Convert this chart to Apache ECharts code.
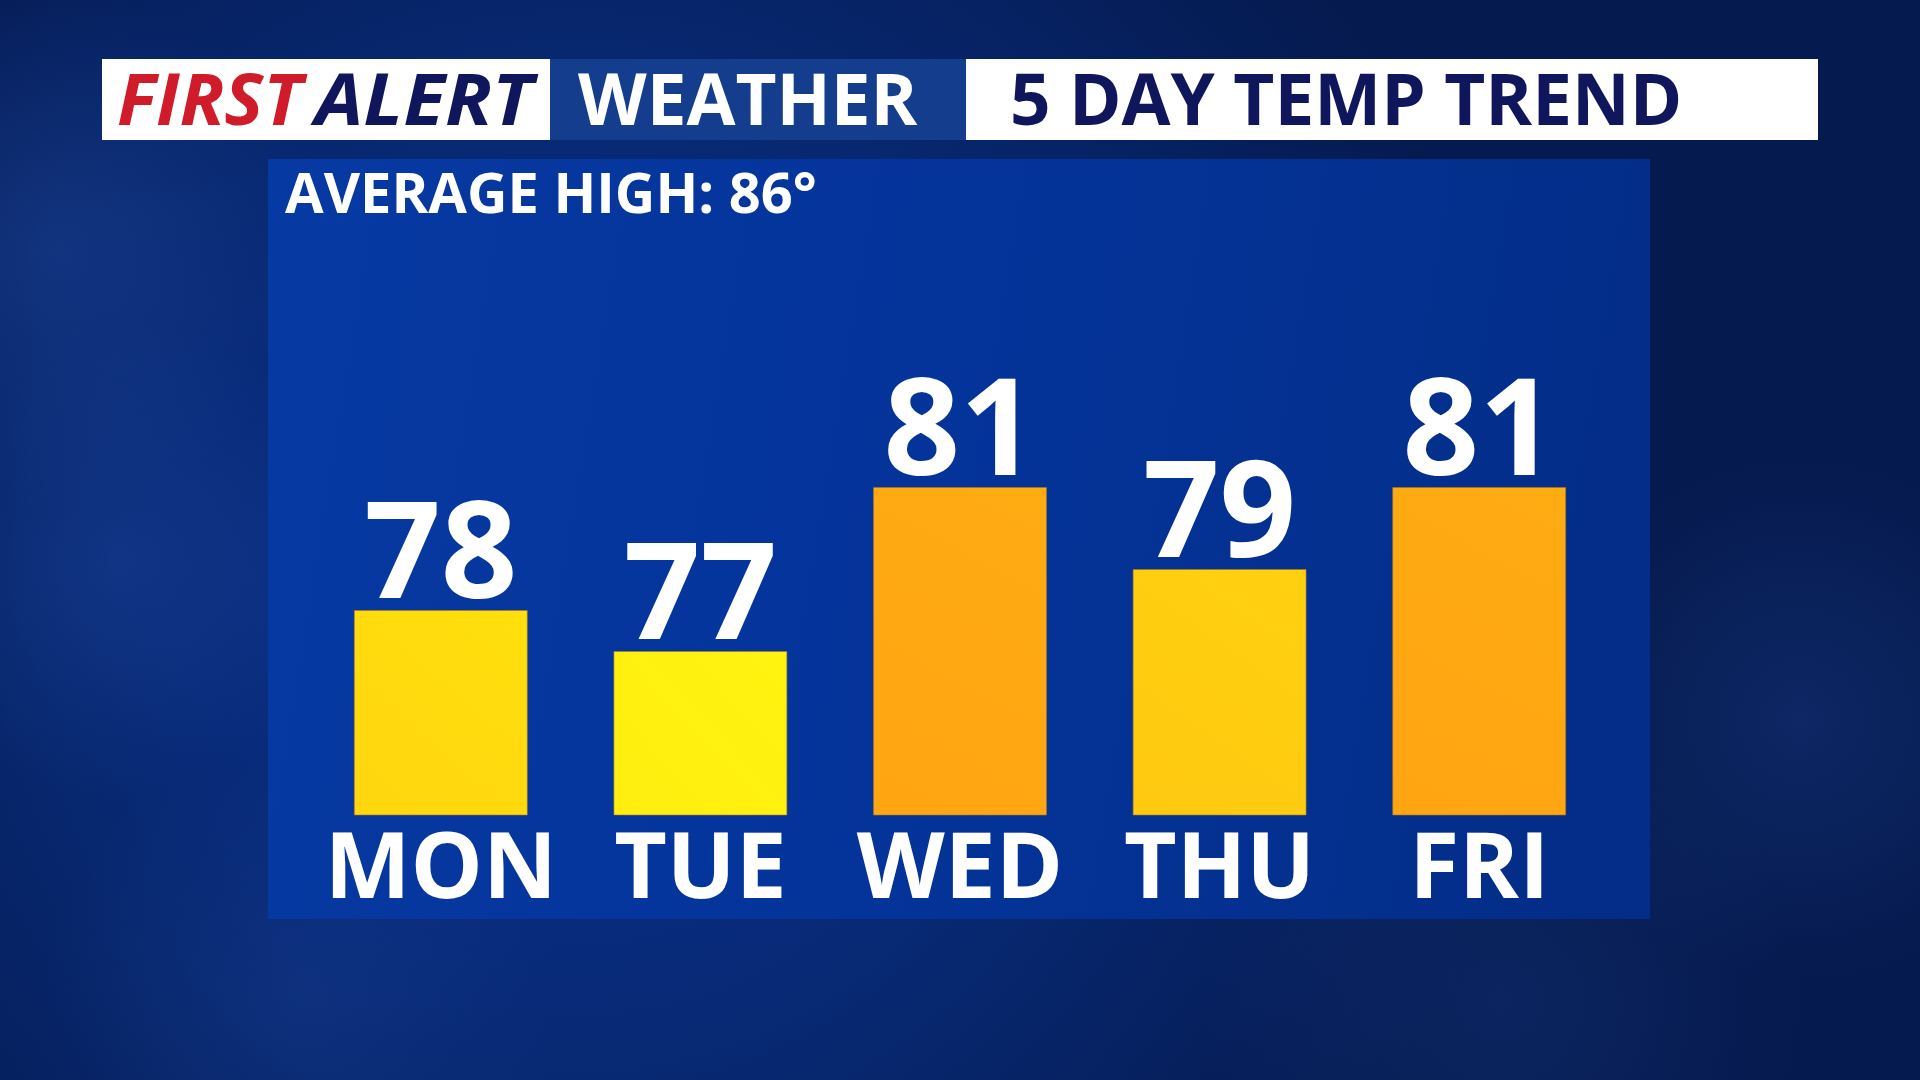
<!DOCTYPE html>
<html>
<head>
<meta charset="utf-8">
<style>
html,body{margin:0;padding:0;background:#082464;}
#chart{width:1920px;height:1080px;}
</style>
<script src="https://cdn.jsdelivr.net/npm/echarts@6/dist/echarts.min.js"></script>
</head>
<body>
<div id="chart"></div>
<script>
// ---- data ----
const days = ['MON', 'TUE', 'WED', 'THU', 'FRI'];
const highTemps = [78, 77, 81, 79, 81];
const averageHigh = 86;
const headerBrand1 = 'FIRST';
const headerBrand2 = 'ALERT';
const headerBrand3 = 'WEATHER';
const headerTitle = '5 DAY TEMP TREND';

// ---- styles ----
const barTopColors = ['#ffdf0c', '#fff30f', '#ffab12', '#ffd010', '#ffab12'];
const barBottomColors = ['#ffd60f', '#ffee10', '#ffa512', '#ffc910', '#ffa512'];
const FONT = '"Open Sans", "Noto Sans", sans-serif';

const chart = echarts.init(document.getElementById('chart'), null, {renderer: 'canvas'});

function blob(cx, cy, r, a) {
  return {
    type: 'circle', silent: true, z: -9,
    shape: {cx: cx, cy: cy, r: r},
    style: {fill: {type: 'radial', x: 0.5, y: 0.5, r: 0.5,
      colorStops: [{offset: 0, color: 'rgba(40,80,170,' + a + ')'}, {offset: 1, color: 'rgba(40,80,170,0)'}]}}
  };
}

const option = {
  animation: false,
  backgroundColor: {
    type: 'radial', x: 0.3, y: 0.55, r: 0.9,
    colorStops: [{offset: 0, color: '#0a3290'}, {offset: 0.55, color: '#07276f'}, {offset: 1, color: '#051a4e'}]
  },
  graphic: [
    blob(60, 250, 260, 0.35),
    blob(120, 560, 240, 0.3),
    blob(1800, 720, 260, 0.25),
    blob(1500, 1000, 300, 0.2),
    blob(300, 1000, 260, 0.2),
    // panel
    {type: 'rect', silent: true, z: -5, shape: {x: 268, y: 159, width: 1382, height: 760},
      style: {fill: {type: 'linear', x: 0, y: 0, x2: 1, y2: 0.3,
        colorStops: [{offset: 0, color: '#0639a2'}, {offset: 0.5, color: '#04349a'}, {offset: 1, color: '#032d88'}]}}},
    // header boxes
    {type: 'rect', silent: true, z: -4, shape: {x: 102, y: 59, width: 448, height: 81}, style: {fill: '#ffffff'}},
    {type: 'rect', silent: true, z: -4, shape: {x: 550, y: 59, width: 416, height: 81}, style: {fill: '#143d8e'}},
    {type: 'rect', silent: true, z: -4, shape: {x: 966, y: 59, width: 852, height: 81}, style: {fill: '#ffffff'}},
    // header texts
    {type: 'text', silent: true, x: 117, y: 105, scaleX: 1.035, style: {text: headerBrand1, x: 0, y: 0, verticalAlign: 'middle',
      font: 'italic bold 71px ' + FONT, fill: '#d01c2a'}},
    {type: 'text', silent: true, x: 315, y: 105, scaleX: 1.085, style: {text: headerBrand2, x: 0, y: 0, verticalAlign: 'middle',
      font: 'italic bold 71px ' + FONT, fill: '#10165c'}},
    {type: 'text', silent: true, style: {text: headerBrand3, x: 578, y: 105, verticalAlign: 'middle',
      font: 'bold 71px ' + FONT, fill: '#ffffff'}},
    {type: 'text', silent: true, style: {text: headerTitle, x: 1010, y: 105, verticalAlign: 'middle',
      font: 'bold 71px ' + FONT, fill: '#10165c'}},
    {type: 'text', silent: true, style: {text: 'AVERAGE HIGH: ' + averageHigh + '°', x: 285, y: 197, verticalAlign: 'middle',
      font: 'bold 56px ' + FONT, fill: '#ffffff'}}
  ],
  grid: {left: 311, right: 311, top: 282, bottom: 265, containLabel: false},
  xAxis: {
    type: 'category', data: days,
    axisLine: {show: false}, axisTick: {show: false}, splitLine: {show: false},
    axisLabel: {color: '#ffffff', fontFamily: FONT, fontWeight: 'bold', fontSize: 91, margin: 12, interval: 0}
  },
  yAxis: {
    type: 'value', min: 73, max: 86, show: false, splitLine: {show: false}
  },
  series: [{
    type: 'bar',
    barWidth: '67%',
    data: highTemps.map((v, i) => ({
      value: v,
      itemStyle: {
        color: {type: 'linear', x: 1, y: 0, x2: 0, y2: 1,
          colorStops: [{offset: 0, color: barTopColors[i]}, {offset: 1, color: barBottomColors[i]}]},
        borderColor: 'rgba(170,120,30,0.6)', borderWidth: 1
      }
    })),
    label: {
      show: true, position: 'top', distance: -17,
      color: '#ffffff', fontFamily: FONT, fontWeight: 'bold', fontSize: 134
    }
  }]
};
chart.setOption(option);
</script>
</body>
</html>
